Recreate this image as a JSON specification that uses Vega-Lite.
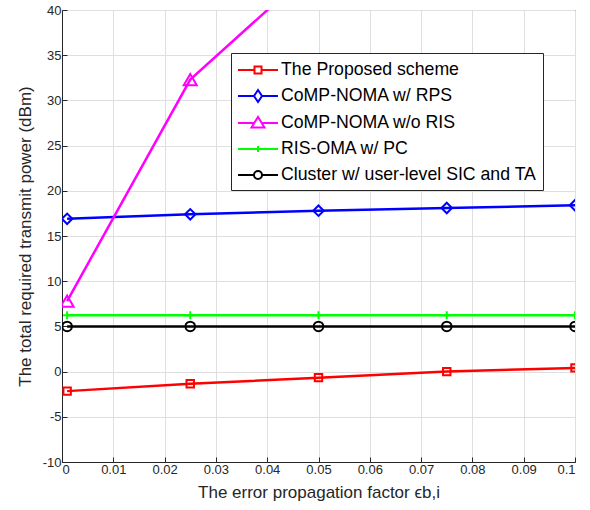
{
  "$schema": "https://vega.github.io/schema/vega-lite/v6.json",
  "width": 513,
  "height": 452,
  "autosize": "none",
  "padding": {"left": 62, "top": 10, "right": 15, "bottom": 48},
  "background": "white",
  "config": {
    "font": "Liberation Sans",
    "view": {"stroke": "#262626", "strokeWidth": 1},
    "axis": {
      "labelFont": "Liberation Sans",
      "labelFontSize": 13,
      "labelColor": "#262626",
      "titleFont": "Liberation Sans",
      "titleFontSize": 17,
      "titleFontWeight": "normal",
      "titleColor": "#262626",
      "domainColor": "#262626",
      "tickColor": "#262626",
      "gridColor": "#dfdfdf",
      "gridOpacity": 1
    }
  },
  "data": {
    "values": [
      {"series": "The Proposed scheme", "x": 0.001, "y": -2.16},
      {"series": "The Proposed scheme", "x": 0.025, "y": -1.35},
      {"series": "The Proposed scheme", "x": 0.05, "y": -0.67},
      {"series": "The Proposed scheme", "x": 0.075, "y": 0.0},
      {"series": "The Proposed scheme", "x": 0.1, "y": 0.41},
      {"series": "CoMP-NOMA w/ RPS", "x": 0.001, "y": 16.9},
      {"series": "CoMP-NOMA w/ RPS", "x": 0.025, "y": 17.4},
      {"series": "CoMP-NOMA w/ RPS", "x": 0.05, "y": 17.8},
      {"series": "CoMP-NOMA w/ RPS", "x": 0.075, "y": 18.1},
      {"series": "CoMP-NOMA w/ RPS", "x": 0.1, "y": 18.4},
      {"series": "CoMP-NOMA w/o RIS", "x": 0.001, "y": 7.8},
      {"series": "CoMP-NOMA w/o RIS", "x": 0.025, "y": 32.3},
      {"series": "CoMP-NOMA w/o RIS", "x": 0.05, "y": 45.1},
      {"series": "RIS-OMA w/ PC", "x": 0.001, "y": 6.23},
      {"series": "RIS-OMA w/ PC", "x": 0.025, "y": 6.23},
      {"series": "RIS-OMA w/ PC", "x": 0.05, "y": 6.23},
      {"series": "RIS-OMA w/ PC", "x": 0.075, "y": 6.23},
      {"series": "RIS-OMA w/ PC", "x": 0.1, "y": 6.23},
      {"series": "Cluster w/ user-level SIC and TA", "x": 0.001, "y": 5.0},
      {"series": "Cluster w/ user-level SIC and TA", "x": 0.025, "y": 5.0},
      {"series": "Cluster w/ user-level SIC and TA", "x": 0.05, "y": 5.0},
      {"series": "Cluster w/ user-level SIC and TA", "x": 0.075, "y": 5.0},
      {"series": "Cluster w/ user-level SIC and TA", "x": 0.1, "y": 5.0}
    ]
  },
  "encoding": {
    "x": {
      "field": "x", "type": "quantitative",
      "scale": {"domain": [0, 0.1], "nice": false},
      "axis": {"values": [0, 0.01, 0.02, 0.03, 0.04, 0.05, 0.06, 0.07, 0.08, 0.09, 0.1], "labelExpr": "'' + datum.value", "tickSize": -5, "labelPadding": 6, "title": "The error propagation factor  ϵb,i", "titlePadding": 8}
    },
    "y": {
      "field": "y", "type": "quantitative",
      "scale": {"domain": [-10, 40], "nice": false},
      "axis": {"values": [-10, -5, 0, 5, 10, 15, 20, 25, 30, 35, 40], "labelExpr": "'' + datum.value", "tickSize": -5, "labelPadding": 6, "title": "The total required transmit power (dBm)", "titlePadding": 8}
    },
    "color": {
      "field": "series", "type": "nominal",
      "scale": {
        "domain": ["The Proposed scheme", "CoMP-NOMA w/ RPS", "CoMP-NOMA w/o RIS", "RIS-OMA w/ PC", "Cluster w/ user-level SIC and TA"],
        "range": ["#ff0000", "#0000ff", "#ff00ff", "#00ff00", "#000000"]
      },
      "legend": {
        "title": null,
        "orient": "none",
        "legendX": 169,
        "legendY": 43,
        "fillColor": "white",
        "strokeColor": "#262626",
        "padding": 6,
        "labelFont": "Liberation Sans",
        "labelFontSize": 17.7,
        "labelColor": "#000000",
        "labelLimit": 400,
        "symbolSize": 400,
        "symbolStrokeWidth": 2,
        "symbolFillColor": "transparent",
        "labelOffset": 22,
        "rowPadding": 6,
        "encode": {
          "symbols": {
            "update": {
              "shape": {"signal": "datum.value === 'The Proposed scheme' ? 'M-1,0H0.65M1.35,0H3M0.65,-0.35H1.35V0.35H0.65Z' : datum.value === 'CoMP-NOMA w/ RPS' ? 'M-1,0H0.6M1.4,0H3M1,-0.6L1.4,0L1,0.6L0.6,0Z' : datum.value === 'CoMP-NOMA w/o RIS' ? 'M-1,0H0.55M1.45,0H3M1,-0.6L1.65,0.45H0.35Z' : datum.value === 'RIS-OMA w/ PC' ? 'M-1,0H3M1,-0.3V0.3' : 'M-1,0H0.6M1.4,0H3M1.4,0A0.4,0.4 0 1 1 0.6,0A0.4,0.4 0 1 1 1.4,0'"},
              "fill": {"value": "transparent"},
              "fillOpacity": {"value": 0}
            }
          }
        }
      }
    }
  },
  "layer": [
    {
      "mark": {"type": "line", "strokeWidth": 2.5, "clip": true}
    },
    {
      "transform": [{"filter": "datum.series === 'The Proposed scheme'"}],
      "mark": {"type": "point", "shape": "square", "size": 55, "filled": false, "strokeWidth": 2, "clip": true, "opacity": 1}
    },
    {
      "transform": [{"filter": "datum.series === 'CoMP-NOMA w/ RPS'"}],
      "mark": {"type": "point", "shape": "diamond", "size": 110, "filled": false, "strokeWidth": 2, "clip": true, "opacity": 1}
    },
    {
      "transform": [{"filter": "datum.series === 'CoMP-NOMA w/o RIS'"}],
      "mark": {"type": "point", "shape": "triangle-up", "size": 170, "filled": false, "strokeWidth": 2, "clip": true, "opacity": 1}
    },
    {
      "transform": [{"filter": "datum.series === 'RIS-OMA w/ PC'"}],
      "mark": {"type": "point", "shape": "M-1,0H1M0,-1V1", "size": 64, "filled": false, "strokeWidth": 2, "clip": true, "opacity": 1}
    },
    {
      "transform": [{"filter": "datum.series === 'Cluster w/ user-level SIC and TA'"}],
      "mark": {"type": "point", "shape": "circle", "size": 90, "filled": false, "strokeWidth": 2, "clip": true, "opacity": 1}
    }
  ]
}
